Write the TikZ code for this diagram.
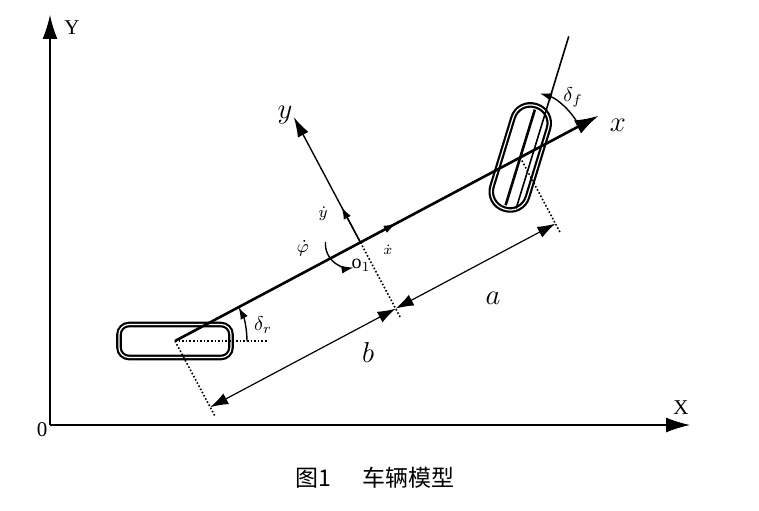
\documentclass[tikz,border=0pt]{standalone}
\usepackage{fontspec}
\setmainfont{Liberation Serif}
\newfontfamily\cjk{Noto Sans CJK SC}
\usetikzlibrary{calc,arrows.meta}

\tikzset{
  bigtip/.style={-{Latex[length=12pt,width=7.5pt]}},
  smalltip/.style={-{Latex[length=6pt,width=4pt]}},
  dimline/.style={{Latex[length=9pt,width=6pt]}-{Latex[length=9pt,width=6pt]}, line width=0.6pt},
  dotline/.style={densely dotted, line width=0.8pt},
  wheel/.style={draw, line width=1.1pt, double, double distance=0.6pt, inner sep=0pt},
  biglab/.style={font=\fontsize{15}{17}\selectfont},
  smalllab/.style={inner sep=0.5pt},
}

\begin{document}
\begin{tikzpicture}[x=0.5pt,y=0.5pt]
\useasboundingbox (0,0) rectangle (759,510);

% Koordinatensystem
\coordinate (O) at (50,85);
\coordinate (Ytip) at (50,495);
\coordinate (Xtip) at (690,85);
\draw[bigtip, line width=0.6pt] (O) -- (Xtip);
\draw[bigtip, line width=0.6pt] (O) -- (Ytip);
\node[font=\fontsize{10.5}{12}\selectfont] (Ylab) at (72,482) {Y};
\node[font=\fontsize{10.5}{12}\selectfont] (Xlab) at (681,102) {X};
\node[font=\fontsize{10.5}{12}\selectfont] (null) at (42,80) {0};

% Fahrzeugpunkte
\coordinate (R) at (175,169);
\coordinate (O1) at ($(R)+(28:210)$);
\coordinate (F) at ($(R)+(28:391)$);
\coordinate (xtip) at ($(R)+(28:480)$);

% Raeder
\node[wheel, rounded corners=5pt, minimum width=56pt, minimum height=16.5pt] (rad_h) at (R) {};
\node[wheel, rounded corners=9pt, minimum width=54pt, minimum height=18.5pt, rotate=73] (rad_v) at (F) {};
\draw[line width=1.3pt] ($(F)+(253:50)$) -- ($(F)+(73:50)$);
\draw[line width=0.8pt] ($(F)+(-17:11)+(253:50)$) -- ($(F)+(-17:11)+(73:130)$) coordinate (lenk);

% Laengsachse
\draw[bigtip, line width=1.3pt] (R) -- (xtip);
\node[biglab] (xlab) at (618,385) {$x$};

% lokale y-Achse
\draw[-{Latex[length=10pt,width=6pt]}, line width=0.7pt] (O1) -- ($(O1)+(118:142)$) coordinate (ytip);
\node[biglab] (ylab) at (285,395) {$y$};
\draw[smalltip, line width=0.7pt] (O1) -- ($(O1)+(118:40)$);
\draw[smalltip, line width=0.7pt] (O1) -- ($(O1)+(28:40)$);
\node[smalllab, font=\fontsize{8}{9}\selectfont] (ydot) at (323,296) {$\dot{y}$};
\node[smalllab, font=\fontsize{7}{8}\selectfont] (xdot) at (388,260) {$\dot{x}$};
\node[smalllab, font=\fontsize{9}{10}\selectfont] (phidot) at (303,262) {$\dot{\varphi}$};
\draw[smalltip, line width=0.7pt] ($(O1)+(-11,-1.5)+(175:24)$) arc[start angle=175, end angle=280, radius=24];
\node[smalllab, font=\fontsize{10}{11}\selectfont] (o1lab) at (361,245) {$\mathrm{o}_1$};

% Hilfslinien
\draw[dotline] (R) -- ($(R)+(-62:85)$) coordinate (Rend);
\draw[dotline] (O1) -- ($(O1)+(-62:85)$) coordinate (O1end);
\draw[dotline] (F) -- ($(F)+(-62:85)$) coordinate (Fend);
\draw[dotline] (R) -- ($(R)+(92,0)$) coordinate (Rhor);

% Lenkwinkel
\draw[smalltip, line width=0.7pt] ($(R)+(0:72)$) arc[start angle=0, end angle=28, radius=72];
\node[font=\fontsize{10}{11}\selectfont] (dr) at (263,185) {$\delta_r$};
\draw[smalltip, line width=0.7pt] ($(F)+(28:67)$) arc[start angle=28, end angle=73, radius=67];
\node[font=\fontsize{10}{11}\selectfont] (df) at (573,413) {$\delta_f$};

% Bemassung a und b
\coordinate (Rd) at ($(R)+(-62:75)$);
\coordinate (O1d) at ($(O1)+(-62:75)$);
\coordinate (Fd) at ($(F)+(-62:75)$);
\draw[dimline] (Rd) -- (O1d);
\draw[dimline] (O1d) -- (Fd);
\node[biglab] (blab) at (368,158) {$b$};
\node[biglab] (alab) at (493,212) {$a$};

% Bildunterschrift
\node[font=\cjk\fontsize{11.5}{13}\selectfont] (cap) at (375,32) {图1\hspace{1.4em}车辆模型};
\end{tikzpicture}
\end{document}
